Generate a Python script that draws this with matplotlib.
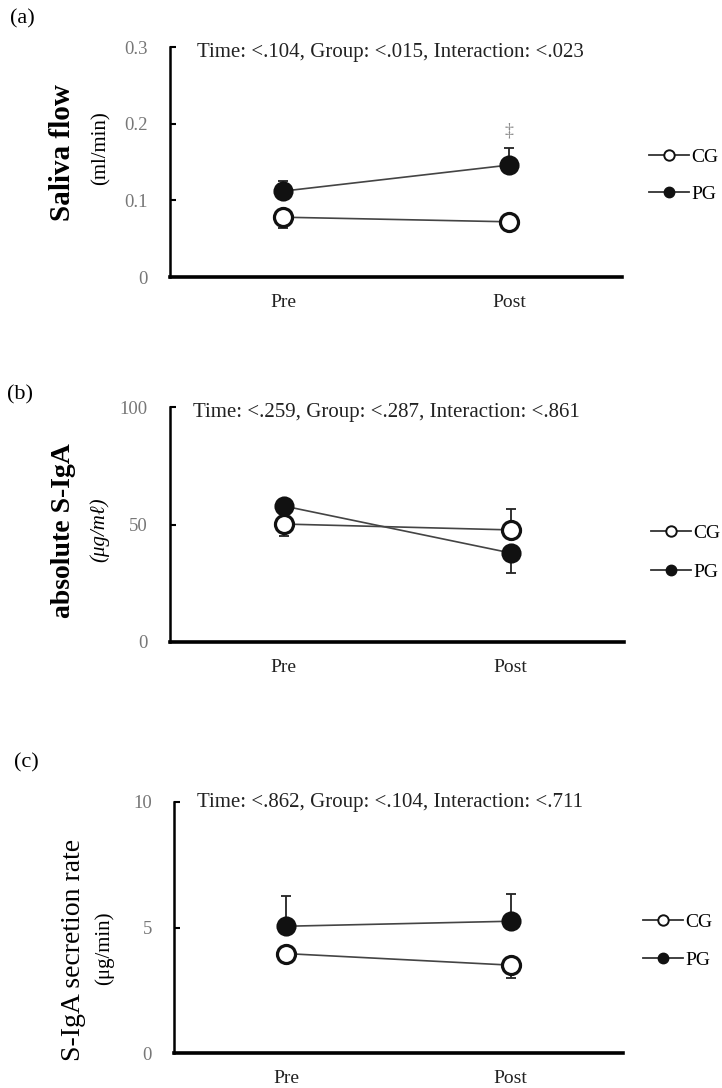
import matplotlib
matplotlib.use("Agg")
import matplotlib.pyplot as plt
from matplotlib.lines import Line2D

plt.rcParams['font.family'] = ['Liberation Serif', 'DejaVu Serif']

# datos
times = ['Pre', 'Post']

flow_cg = [0.078, 0.072]
flow_cg_lo = [0.014, 0.005]
flow_pg = [0.112, 0.146]
flow_pg_hi = [0.013, 0.022]

iga_cg = [50.2, 47.7]
iga_cg_lo = [5.0, 0.0]
iga_cg_hi = [0.0, 9.0]
iga_pg = [57.9, 37.9]
iga_pg_lo = [0.0, 8.5]
iga_pg_hi = [2.0, 0.0]

rate_cg = [3.96, 3.5]
rate_cg_lo = [0.3, 0.5]
rate_pg = [5.05, 5.25]
rate_pg_hi = [1.2, 1.1]

stats = ["Time: <.104, Group: <.015, Interaction: <.023",
         "Time: <.259, Group: <.287, Interaction: <.861",
         "Time: <.862, Group: <.104, Interaction: <.711"]
yticks = [[0, 0.1, 0.2, 0.3], [0, 50, 100], [0, 5, 10]]
yticklabels = [["0", "0.1", "0.2", "0.3"], ["0", "50", "100"], ["0", "5", "10"]]

fig = plt.figure(figsize=(7.22, 10.88), dpi=100)
W, H = 722, 1088

def px(x0, y0, x1, y1):
    # caja en pixeles -> fraccion de figura
    return [x0 / W, 1 - y1 / H, (x1 - x0) / W, (y1 - y0) / H]

boxes = [px(170, 47, 622, 277), px(170, 407, 624, 642), px(174, 802, 623, 1053)]
axes = [fig.add_axes(b) for b in boxes]

# posiciones del texto de estadistica y de la leyenda
stat_pos = [(197, 53), (193, 413), (197, 803)]
leg_x = [1.03, 1.03, 1.015]
leg_y = [0.44, 0.38, 0.445]
leg_sp = [1.0, 1.1, 1.05]

line_c = '#444444'
series = [
    (flow_cg, [flow_cg_lo, [0, 0]], flow_pg, [[0, 0], flow_pg_hi]),
    (iga_cg, [iga_cg_lo, iga_cg_hi], iga_pg, [iga_pg_lo, iga_pg_hi]),
    (rate_cg, [rate_cg_lo, [0, 0]], rate_pg, [[0, 0], rate_pg_hi]),
]

x = [0, 1]
for i, ax in enumerate(axes):
    cg, cg_err, pg, pg_err = series[i]
    ax.errorbar(x, cg, yerr=cg_err, fmt='none', ecolor='#222222', elinewidth=1.3,
                capsize=3.5, capthick=1.3, zorder=2)
    ax.errorbar(x, pg, yerr=pg_err, fmt='none', ecolor='#222222', elinewidth=1.3,
                capsize=3.5, capthick=1.3, zorder=2)
    ax.plot(x, cg, color=line_c, lw=1.2, marker='o', ms=13, mfc='white',
            mec='#111111', mew=2.3, zorder=3)
    ax.plot(x, pg, color=line_c, lw=1.2, marker='o', ms=13, mfc='#111111',
            mec='#111111', mew=1.5, zorder=3)

    ax.set_xlim(-0.5, 1.5)
    ax.set_ylim(yticks[i][0], yticks[i][-1])
    ax.set_xticks(x)
    ax.set_xticklabels(times, fontsize=14, color='#222222')
    ax.set_yticks(yticks[i])
    ax.set_yticklabels(yticklabels[i], fontsize=13.5, color='#777777')
    ax.tick_params(axis='x', length=0, pad=12)
    ax.tick_params(axis='y', direction='in', length=4, width=1.5, pad=16)
    for s in ['top', 'right']:
        ax.spines[s].set_visible(False)
    ax.spines['left'].set_linewidth(1.8)
    ax.spines['bottom'].set_linewidth(2.6)
    ax.set_facecolor('none')

    sx, sy = stat_pos[i]
    fig.text(sx / W, 1 - sy / H, stats[i], fontsize=15, va='center', ha='left',
             color='#222222')

    handles = [Line2D([], [], color='#333333', lw=1.3, marker='o', ms=7.5, mfc='white',
                      mec='#111111', mew=1.4),
               Line2D([], [], color='#333333', lw=1.3, marker='o', ms=7.5, mfc='#111111',
                      mec='#111111')]
    ax.legend(handles, ['CG', 'PG'], loc='center left', bbox_to_anchor=(leg_x[i], leg_y[i]),
              frameon=False, fontsize=14, handlelength=2.05, handletextpad=0.1,
              labelspacing=leg_sp[i], numpoints=1, borderaxespad=0.3)

# simbolo de significancia
axes[0].text(1, 0.19, "‡", ha='center', va='center', fontsize=13, color='#888888')

# etiquetas de paneles
fig.text(10 / W, 1 - 19 / H, "(a)", fontsize=16, va='center')
fig.text(7 / W, 1 - 395 / H, "(b)", fontsize=16, va='center')
fig.text(14 / W, 1 - 763 / H, "(c)", fontsize=16, va='center')

# etiquetas del eje y
fig.text(63 / W, 1 - 153 / H, "Saliva flow", rotation=90, fontsize=21,
         fontweight='bold', ha='center', va='center')
fig.text(101 / W, 1 - 148 / H, "(ml/min)", rotation=90, fontsize=15,
         ha='center', va='center')
fig.text(64 / W, 1 - 531 / H, "absolute S-IgA", rotation=90, fontsize=20,
         fontweight='bold', ha='center', va='center')
fig.text(99 / W, 1 - 530 / H, "(μg/mℓ)", rotation=90, fontsize=15,
         ha='center', va='center', style='italic')
fig.text(73 / W, 1 - 950 / H, "S-IgA secretion rate", rotation=90, fontsize=20,
         ha='center', va='center')
fig.text(104 / W, 1 - 948 / H, "(μg/min)", rotation=90, fontsize=15,
         ha='center', va='center')

fig.savefig("out.png", dpi=100, facecolor='white')
